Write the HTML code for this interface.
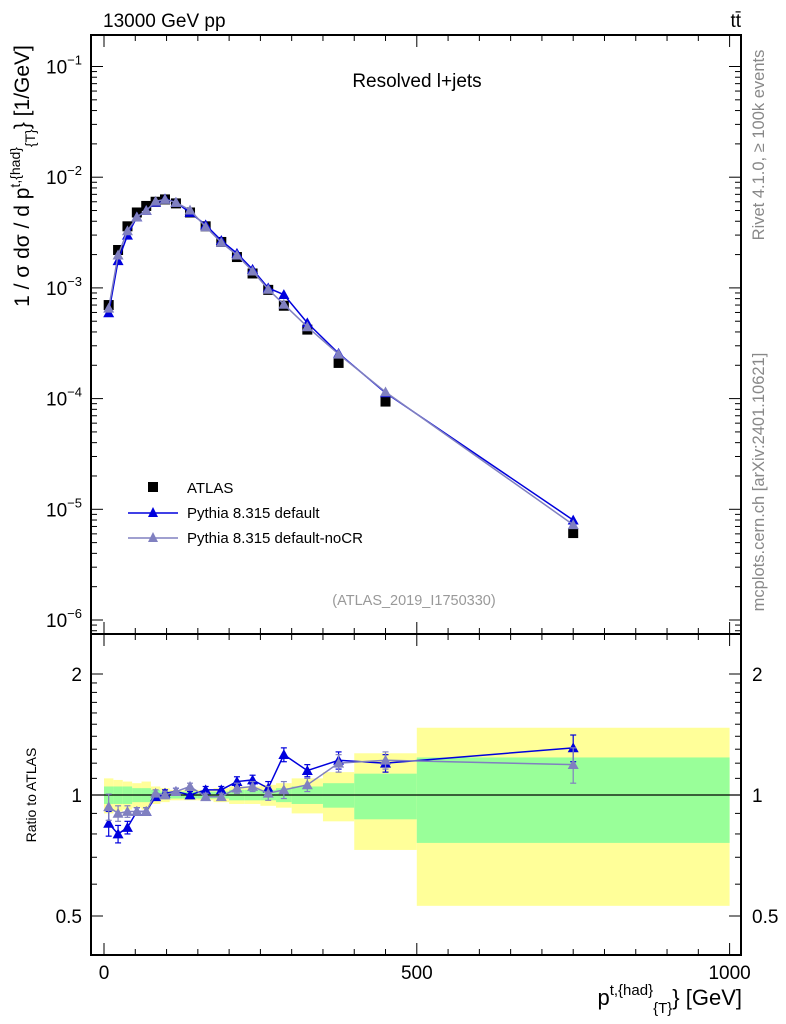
<!DOCTYPE html>
<html><head><meta charset="utf-8"><style>
body{margin:0;background:#fff}
svg{display:block;font-family:"Liberation Sans",sans-serif}
</style></head><body>
<svg id="plot" width="786" height="1024" viewBox="0 0 786 1024" xmlns="http://www.w3.org/2000/svg">
<rect width="786" height="1024" fill="#fff"/>
<g id="bands"></g>
<g id="marks"></g>
<g id="axes"></g>
<text x="103" y="27" font-size="19">13000 GeV pp</text>
<text x="741" y="27" font-size="19" text-anchor="end">tt̄</text>
<text x="417" y="87" font-size="19" text-anchor="middle">Resolved l+jets</text>
<text x="414" y="605" font-size="14.5" fill="#999" text-anchor="middle">(ATLAS_2019_I1750330)</text>
<text transform="translate(764,145) rotate(-90)" font-size="16.5" fill="#888" text-anchor="middle">Rivet 4.1.0, ≥ 100k events</text>
<text transform="translate(764,482) rotate(-90)" font-size="16.5" fill="#888" text-anchor="middle">mcplots.cern.ch [arXiv:2401.10621]</text>
<text transform="translate(29,176) rotate(-90)" font-size="21" text-anchor="middle">1 / σ dσ / d p<tspan font-size="14" dy="-9">t,{had}</tspan><tspan font-size="14" dy="15">{T}</tspan><tspan dy="-6">} [1/GeV]</tspan></text>
<text transform="translate(36,795) rotate(-90)" font-size="14" text-anchor="middle">Ratio to ATLAS</text>
<text x="742" y="1005" font-size="22" text-anchor="end">p<tspan font-size="15" dy="-10">t,{had</tspan><tspan font-size="15" dy="0">}</tspan><tspan font-size="15" dy="18">{T}</tspan><tspan dy="-8">} [GeV]</tspan></text>
<g>
<rect x="148" y="482" width="10" height="10" fill="#000"/>
<text x="187" y="493" font-size="15">ATLAS</text>
<line x1="128" y1="513" x2="178" y2="513" stroke="#0000dd" stroke-width="1.5"/>
<polygon points="153,507 148,517 158,517" fill="#0000dd"/>
<text x="187" y="518" font-size="15">Pythia 8.315 default</text>
<line x1="128" y1="538" x2="178" y2="538" stroke="#8080c0" stroke-width="1.5"/>
<polygon points="153,532 148,542 158,542" fill="#8080c0"/>
<text x="187" y="543" font-size="15">Pythia 8.315 default-noCR</text>
</g>
</svg>
<script>
const binEdges=[0,15,30,45,60,75,90,105,125,150,175,200,225,250,275,300,350,400,500,1000];
const atlasValues=[7e-4,2.2e-3,3.6e-3,4.8e-3,5.5e-3,6.0e-3,6.3e-3,5.8e-3,4.8e-3,3.6e-3,2.6e-3,1.9e-3,1.35e-3,9.6e-4,6.9e-4,4.2e-4,2.1e-4,9.4e-5,6.1e-6];
const ratioDefault=[0.85,0.80,0.83,0.91,0.91,0.99,1.01,1.02,1.0,1.03,1.03,1.08,1.09,1.04,1.26,1.15,1.22,1.20,1.31];
const ratioNoCR=[0.935,0.90,0.91,0.91,0.91,1.01,1.0,1.02,1.05,0.99,0.99,1.04,1.05,1.01,1.03,1.06,1.20,1.22,1.19];
const ratioErrDefault=[0.06,0.04,0.03,0.02,0.02,0.02,0.02,0.02,0.02,0.02,0.02,0.03,0.03,0.04,0.05,0.04,0.06,0.06,0.10];
const ratioErrNoCR=[0.07,0.04,0.03,0.02,0.02,0.02,0.02,0.02,0.02,0.02,0.02,0.03,0.03,0.04,0.05,0.04,0.06,0.06,0.12];
const bandTotal=[0.10,0.09,0.08,0.07,0.08,0.05,0.04,0.03,0.03,0.03,0.04,0.05,0.05,0.06,0.07,0.10,0.14,0.27,0.47];
const bandStat=[0.05,0.05,0.05,0.04,0.04,0.03,0.02,0.02,0.02,0.02,0.02,0.03,0.03,0.03,0.04,0.05,0.07,0.13,0.24];
const xTicks=[0,500,1000];
const mainTickExp=[-1,-2,-3,-4,-5,-6];
const ratioTicks=[2,1,0.5];

const NS="http://www.w3.org/2000/svg";
const L=91,R=741,MT=35,MB=634,RB=955;
const X=v=>104+v*0.6256;
const Ym=v=>66.5+(-1-Math.log10(v))*110.7;
const Yr=r=>795-Math.log2(r)*121;
function mk(p,t,a){const e=document.createElementNS(NS,t);for(const k in a)e.setAttribute(k,a[k]);p.appendChild(e);return e;}
const bands=document.getElementById('bands'),marks=document.getElementById('marks'),axes=document.getElementById('axes');
const centers=atlasValues.map((_,i)=>(binEdges[i]+binEdges[i+1])/2);

bandTotal.forEach((b,i)=>{
 const r=mk(bands,'rect',{x:X(binEdges[i]),y:Yr(1+b),width:X(binEdges[i+1])-X(binEdges[i]),height:Yr(1-b)-Yr(1+b),fill:'#ffff99'});
 
 
});
bandStat.forEach((b,i)=>{
 const r=mk(bands,'rect',{x:X(binEdges[i]),y:Yr(1+b),width:X(binEdges[i+1])-X(binEdges[i]),height:Yr(1-b)-Yr(1+b),fill:'#99ff99'});
 
 
});
mk(bands,'line',{x1:L,x2:R,y1:Yr(1),y2:Yr(1),stroke:'#000','stroke-width':1.2});

function tri(p,x,y,c,s){return mk(p,'polygon',{points:`${x},${y-s} ${x-s},${y+s*0.8} ${x+s},${y+s*0.8}`,fill:c});}
function series(ratios,errs,color,name){
 const main=ratios.map((r,i)=>[X(centers[i]),Ym(atlasValues[i]*r)]);
 const pl=mk(marks,'polyline',{points:main.map(p=>p.join(',')).join(' '),fill:'none',stroke:color,'stroke-width':1.5});
 
 
 main.forEach(p=>{const t=tri(marks,p[0],p[1],color,5.5);
  
  });
 const rp=ratios.map((r,i)=>[X(centers[i]),Yr(r)]);
 const rl=mk(marks,'polyline',{points:rp.map(p=>p.join(',')).join(' '),fill:'none',stroke:color,'stroke-width':1.5});
 
 
 ratios.forEach((r,i)=>{const x=X(centers[i]);
  const y1=Yr(r+errs[i]),y2=Yr(r-errs[i]);
  mk(marks,'line',{x1:x,x2:x,y1:y1,y2:y2,stroke:color,'stroke-width':1.2});
  mk(marks,'line',{x1:x-3,x2:x+3,y1:y1,y2:y1,stroke:color,'stroke-width':1.2});
  mk(marks,'line',{x1:x-3,x2:x+3,y1:y2,y2:y2,stroke:color,'stroke-width':1.2});
  const t=tri(marks,x,Yr(r),color,5.5);
  
  });
}
atlasValues.forEach((v,i)=>{
 const s=mk(marks,'rect',{x:X(centers[i])-5,y:Ym(v)-5,width:10,height:10,fill:'#000'});
 
 
});
series(ratioDefault,ratioErrDefault,'#0000dd','pythia-default');
series(ratioNoCR,ratioErrNoCR,'#8080c0','pythia-nocr');

mk(axes,'rect',{x:L,y:MT,width:R-L,height:MB-MT,fill:'none',stroke:'#000','stroke-width':2});
mk(axes,'rect',{x:L,y:MB,width:R-L,height:RB-MB,fill:'none',stroke:'#000','stroke-width':2});
for(let v=0;v<=1000;v+=50){const x=X(v),len=v%500===0?12:6;
 [[MT,1],[MB,-1],[MB,1],[RB,-1]].forEach(([y,d])=>mk(axes,'line',{x1:x,x2:x,y1:y,y2:y+d*len,stroke:'#000','stroke-width':1}));}
xTicks.forEach(v=>{const t=mk(axes,'text',{x:X(v),y:979,'font-size':19,'text-anchor':'middle'});t.textContent=v;
 
 });
for(let e=-7;e<=-1;e++){for(let m=1;m<10;m++){const v=m*Math.pow(10,e),y=Ym(v);if(y<MT||y>MB)continue;const len=m===1?12:6;
 mk(axes,'line',{x1:L,x2:L+len,y1:y,y2:y,stroke:'#000'});mk(axes,'line',{x1:R,x2:R-len,y1:y,y2:y,stroke:'#000'});}}
mainTickExp.forEach(e=>{const t=mk(axes,'text',{x:82,y:Ym(Math.pow(10,e))+7,'font-size':19,'text-anchor':'end'});
 t.innerHTML=`10<tspan font-size="13" dy="-9">${e<0?'−'+(-e):e}</tspan>`;
 
 });
const minor=[0.5,0.6,0.7,0.8,0.9,1,1.1,1.2,1.3,1.4,1.5,1.6,1.7,1.8,1.9,2];
minor.forEach(r=>{const y=Yr(r),len=(r===0.5||r===1||r===2)?12:6;
 mk(axes,'line',{x1:L,x2:L+len,y1:y,y2:y,stroke:'#000'});mk(axes,'line',{x1:R,x2:R-len,y1:y,y2:y,stroke:'#000'});});
ratioTicks.forEach(r=>{[[82,'end'],[752,'start']].forEach(([x,a])=>{const t=mk(axes,'text',{x:x,y:Yr(r)+7,'font-size':19,'text-anchor':a});t.textContent=r;
 
 });});
</script>
</body></html>
